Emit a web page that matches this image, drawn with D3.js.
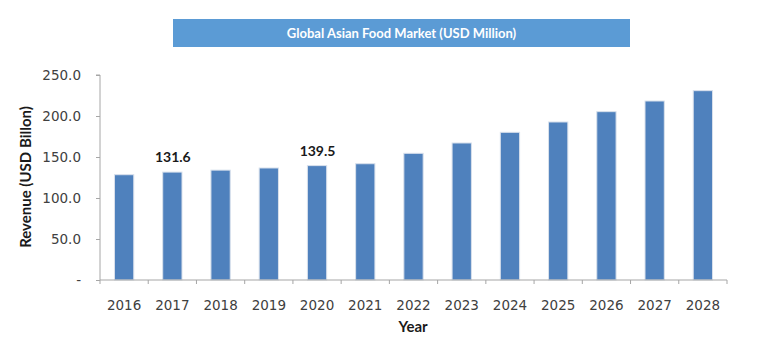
<!DOCTYPE html>
<html><head><meta charset="utf-8">
<script src="https://cdn.jsdelivr.net/npm/d3@7"></script>
<style>body{margin:0;background:#fff;}svg{display:block;}</style>
</head><body>
<svg id="c" width="773" height="357"></svg>
<script>
const years = ["2016","2017","2018","2019","2020","2021","2022","2023","2024","2025","2026","2027","2028"];
const revenue = [128.4, 131.6, 134.0, 136.6, 139.5, 141.8, 154.5, 167.1, 180.1, 192.7, 205.3, 218.3, 230.9];
const labelled = ["2017", "2020"];
const yTicks = [0, 50, 100, 150, 200, 250];
const title = "Global Asian Food Market (USD Million)";

const svg = d3.select("#c");
const m = {left: 100, right: 46, top: 75, bottom: 77};
const W = 773, H = 357;
const x = d3.scaleBand().domain(years).range([m.left, W - m.right]).paddingInner(0.6).paddingOuter(0.3);
const y = d3.scaleLinear().domain([0, 250]).range([H - m.bottom, m.top]);
const axisColor = "#a6a6a6";

// title box
svg.append("rect").attr("x", 173).attr("y", 19).attr("width", 457).attr("height", 28).attr("fill", "#5b9bd5");
svg.append("text").attr("x", 401.5).attr("y", 37.5).attr("text-anchor", "middle")
  .attr("font-family", "Lato").attr("font-weight", "bold").attr("font-size", 13).attr("fill", "#fff").text(title);

// bars
svg.selectAll("rect.bar").data(years).join("rect").attr("class", "bar")
  .attr("x", d => x(d)).attr("width", x.bandwidth())
  .attr("y", (d, i) => y(revenue[i])).attr("height", (d, i) => y(0) - y(revenue[i]))
  .attr("fill", "#4f81bd").attr("stroke", "#d9e1ec").attr("stroke-width", 1);

// y axis
const ya = svg.append("g").attr("transform", `translate(${m.left},0)`)
  .call(d3.axisLeft(y).tickValues(yTicks).tickSize(4).tickPadding(15)
    .tickFormat(d => d === 0 ? "-" : d3.format(".1f")(d)));
ya.select(".domain").attr("stroke", axisColor).attr("d", `M-4,${y(250)}H0V${y(0)}`);
ya.selectAll(".tick line").attr("stroke", axisColor);
ya.selectAll(".tick text").attr("font-family", "DejaVu Sans").attr("font-size", 13.5).attr("fill", "#404040");

// x axis
const xa = svg.append("g").attr("transform", `translate(0,${y(0)})`)
  .call(d3.axisBottom(x).tickSize(0).tickPadding(20));
xa.select(".domain").attr("stroke", axisColor).attr("d", `M${m.left},0H${W - m.right}`);
xa.selectAll(".tick text").attr("font-family", "DejaVu Sans").attr("font-size", 13.5).attr("fill", "#404040");
const bounds = years.map((d, i) => m.left + i * (W - m.right - m.left) / years.length).concat([W - m.right]);
svg.append("g").selectAll("line").data(bounds).join("line")
  .attr("x1", d => d).attr("x2", d => d).attr("y1", y(0)).attr("y2", y(0) + 4)
  .attr("stroke", axisColor);

// data labels
svg.selectAll("text.lbl").data(labelled).join("text").attr("class", "lbl")
  .attr("x", d => x(d) + x.bandwidth() / 2 + 0.5)
  .attr("y", d => y(revenue[years.indexOf(d)]) - 10)
  .attr("text-anchor", "middle").attr("font-family", "Lato").attr("font-weight", "bold")
  .attr("font-size", 14).attr("fill", "#1a1a1a").text(d => revenue[years.indexOf(d)].toFixed(1));

// axis titles
svg.append("text").attr("transform", `translate(31,177) rotate(-90)`).attr("text-anchor", "middle")
  .attr("font-family", "Lato").attr("font-weight", "bold").attr("font-size", 15).attr("fill", "#1a1a1a")
  .text("Revenue (USD Billon)");
svg.append("text").attr("x", 413).attr("y", 332).attr("text-anchor", "middle")
  .attr("font-family", "Lato").attr("font-weight", "bold").attr("font-size", 15).attr("fill", "#1a1a1a")
  .text("Year");
</script>
</body></html>
